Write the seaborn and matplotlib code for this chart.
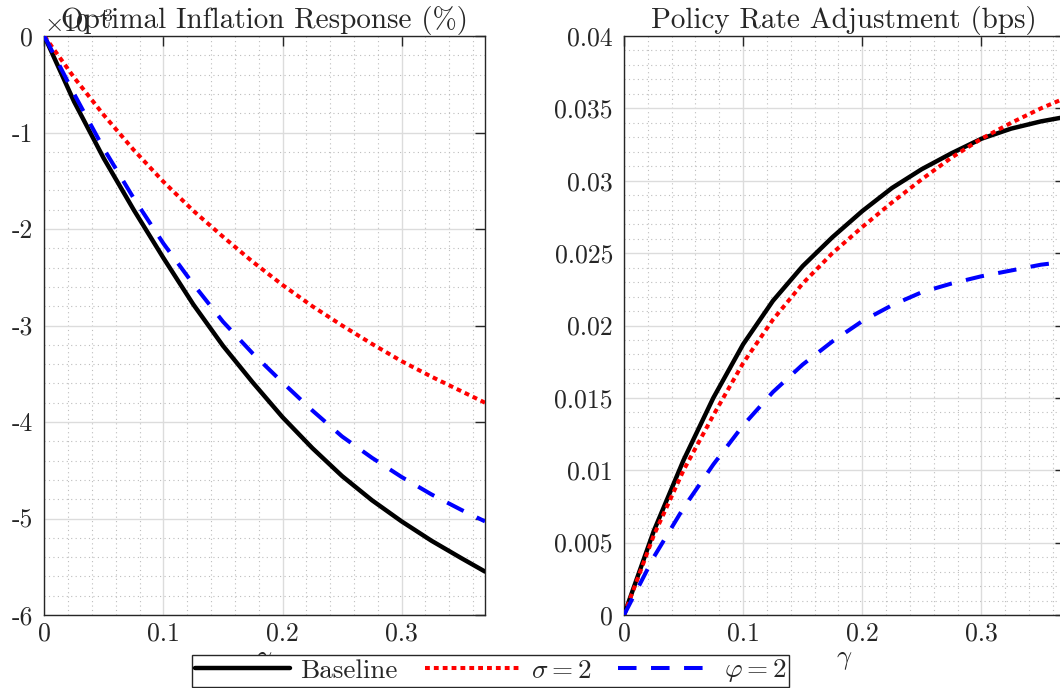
import matplotlib
matplotlib.use("Agg")
import matplotlib.pyplot as plt
import seaborn as sns
import numpy as np
import pandas as pd

# ---------------- data ----------------
gamma = [0.0, 0.025, 0.05, 0.075, 0.1, 0.125, 0.15, 0.175, 0.2, 0.225,
         0.25, 0.275, 0.3, 0.325, 0.35, 0.37]

# Optimal inflation response (x 10^-3)
infl_baseline = [0.0, -0.68, -1.27, -1.80, -2.30, -2.78, -3.21, -3.59, -3.95,
                 -4.27, -4.56, -4.81, -5.03, -5.23, -5.41, -5.55]
infl_sigma2 = [0.0, -0.43, -0.82, -1.18, -1.51, -1.81, -2.08, -2.34, -2.58,
               -2.80, -3.00, -3.19, -3.37, -3.53, -3.68, -3.80]
infl_phi2 = [0.0, -0.60, -1.17, -1.68, -2.15, -2.57, -2.96, -3.29, -3.59,
             -3.88, -4.15, -4.37, -4.57, -4.75, -4.91, -5.03]

# Policy rate adjustment
rate_baseline = [0.0, 0.0058, 0.0107, 0.0150, 0.0187, 0.0217, 0.0241, 0.0261,
                 0.0279, 0.0295, 0.0308, 0.0319, 0.0329, 0.0336, 0.0341, 0.0344]
rate_sigma2 = [0.0, 0.0055, 0.0100, 0.0138, 0.0174, 0.0204, 0.0229, 0.0250,
               0.0268, 0.0285, 0.0301, 0.0316, 0.0329, 0.0340, 0.0350, 0.0357]
rate_phi2 = [0.0, 0.0040, 0.0074, 0.0104, 0.0131, 0.0154, 0.0173, 0.0189,
             0.0203, 0.0214, 0.0223, 0.0229, 0.0234, 0.0238, 0.0242, 0.0244]

series_labels = ["Baseline", r"$\sigma = 2$", r"$\varphi = 2$"]
titles = ["Optimal Inflation Response (%)", "Policy Rate Adjustment (bps)"]
x_ticks = [0, 0.1, 0.2, 0.3]
x_ticklabels = ["0", "0.1", "0.2", "0.3"]
infl_yticks = [-6, -5, -4, -3, -2, -1, 0]
infl_yticklabels = ["-6", "-5", "-4", "-3", "-2", "-1", "0"]
rate_yticks = [0, 0.005, 0.01, 0.015, 0.02, 0.025, 0.03, 0.035, 0.04]
rate_yticklabels = ["0", "0.005", "0.01", "0.015", "0.02", "0.025", "0.03",
                    "0.035", "0.04"]

# ---------------- style ----------------
sns.set_style("white")
plt.rcParams["font.family"] = ["cmr10", "DejaVu Serif"]
plt.rcParams["mathtext.fontset"] = "cm"
plt.rcParams["axes.unicode_minus"] = False
plt.rcParams["axes.formatter.use_mathtext"] = True

colors = ["#000000", "#FF0000", "#0000FF"]
styles = ["-", (0, (1.2, 1.0)), (0, (4.6, 3.6))]
widths = [3.2, 2.9, 2.9]

fig = plt.figure(figsize=(10.6, 6.88), dpi=100)
W, H = 1060.0, 688.0
bottom = (H - 615) / H
height = (615 - 36) / H
ax1 = fig.add_axes([44.3 / W, bottom, (485 - 44.3) / W, height])
ax2 = fig.add_axes([624 / W, bottom, (485 - 44.3) / W, height])

def draw(ax, ys):
    for y, c, ls, lw, lab in zip(ys, colors, styles, widths, series_labels):
        df = pd.DataFrame({"g": gamma, "v": y})
        sns.lineplot(data=df, x="g", y="v", ax=ax, color=c, linestyle=ls,
                     linewidth=lw, label=lab, legend=False, zorder=3)

draw(ax1, [infl_baseline, infl_sigma2, infl_phi2])
draw(ax2, [rate_baseline, rate_sigma2, rate_phi2])

fs_tick = 18.5
fs_title = 21
for ax, yt, ytl, ylim, minor_y in [
    (ax1, infl_yticks, infl_yticklabels, (-6, 0), 0.2),
    (ax2, rate_yticks, rate_yticklabels, (0, 0.04), 0.001),
]:
    ax.set_xlim(0, 0.37)
    ax.set_ylim(*ylim)
    ax.set_xticks(x_ticks)
    ax.set_xticklabels(x_ticklabels, fontsize=fs_tick)
    ax.set_yticks(yt)
    ax.set_yticklabels(ytl, fontsize=fs_tick)
    ax.set_xticks(np.arange(0, 0.3701, 0.02), minor=True)
    ax.set_yticks(np.arange(ylim[0], ylim[1] + 1e-9, minor_y), minor=True)
    ax.grid(which="major", color="#dcdcdc", linewidth=1.0, linestyle="-", zorder=0)
    ax.grid(which="minor", color="#bdbdbd", linewidth=0.8, linestyle=(0, (1, 3)), zorder=0)
    ax.set_axisbelow(True)
    ax.tick_params(which="major", direction="in", length=7, width=1.0,
                   top=True, right=True, colors="#262626")
    ax.tick_params(axis="y", which="major", pad=8)
    ax.tick_params(axis="x", which="major", pad=5)
    ax.tick_params(which="minor", length=0)
    for s in ax.spines.values():
        s.set_color("#262626")
        s.set_linewidth(1.0)
    ax.set_xlabel(r"$\gamma$", fontsize=19, labelpad=2)
    ax.set_ylabel("")

ax1.set_title(titles[0], fontsize=fs_title, pad=6)
ax2.set_title(titles[1], fontsize=fs_title, pad=6)

# exponent label of the left axis
ax1.text(0.0, 1.0, r"$\times 10^{-3}$", transform=ax1.transAxes, fontsize=18,
         ha="left", va="bottom")

handles, labels = ax1.get_legend_handles_labels()
leg = fig.legend(handles, labels, loc="center", ncol=3,
                 bbox_to_anchor=(490.5 / W, 17 / H), bbox_transform=fig.transFigure,
                 fontsize=19.5, frameon=True, fancybox=False, framealpha=1,
                 edgecolor="#262626", handlelength=3.5, handletextpad=0.4,
                 columnspacing=1.0, borderpad=0.1, borderaxespad=0)
leg.get_frame().set_linewidth(1.0)
leg.set_zorder(10)

fig.savefig("out.png", dpi=100)
